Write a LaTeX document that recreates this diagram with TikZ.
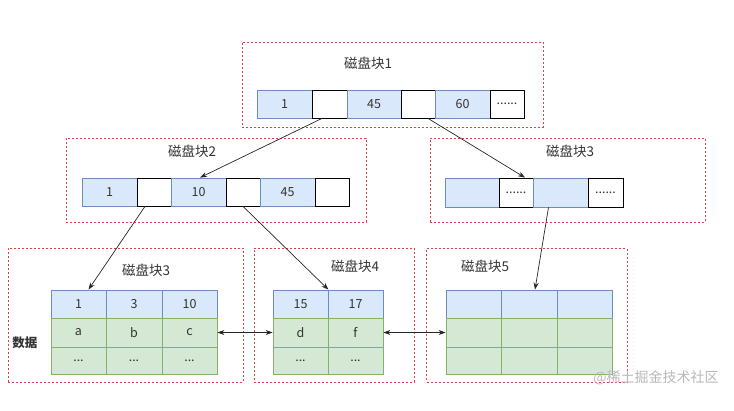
\documentclass[tikz,border=0pt]{standalone}
\usepackage{fontspec}
\setmainfont{Noto Sans CJK SC}
\usetikzlibrary{arrows.meta}
\definecolor{bfill}{HTML}{DAE8FC}
\definecolor{bline}{HTML}{6C8EBF}
\definecolor{gfill}{HTML}{D5E8D4}
\definecolor{gline}{HTML}{82B366}
\definecolor{dred}{HTML}{E04040}
\definecolor{txt}{HTML}{333333}
\newcommand{\cellat}[7]{\node[#2, minimum width={(#5-#3)*1pt}, minimum height={(#6-#4)*1pt}] (#1) at ({(#3+#5)/2},{(#4+#6)/2}) {#7};}
\begin{document}
\begin{tikzpicture}[x=1pt,y=-1pt,
  blk/.style={draw=dred, dash pattern=on 2pt off 2pt, line width=0.9pt, inner sep=0},
  cellbase/.style={inner sep=0, line width=0.8pt, text=txt, font=\fontsize{12.5}{14}\selectfont},
  bcell/.style={cellbase, draw=bline, fill=bfill},
  wcell/.style={cellbase, draw=black, fill=white},
  gcell/.style={cellbase, draw=gline, fill=gfill},
  lbl/.style={text=txt, font=\fontsize{13.5}{15}\selectfont},
  arr/.style={-{Stealth[length=7pt,width=5pt]}, draw=black!85, line width=0.7pt},
  darr/.style={{Stealth[length=7pt,width=5pt]}-{Stealth[length=7pt,width=5pt]}, draw=black!85, line width=0.7pt}]
\useasboundingbox (0,0) rectangle (734,410);
% top block
\cellat{blk1}{blk}{242}{42}{543}{127}{}
\node[lbl] (l1) at (368,63) {磁盘块1};
\cellat{t1}{bcell}{257}{90}{312}{118}{1}
\cellat{t2}{wcell}{312}{90}{347}{118}{}
\cellat{t3}{bcell}{347}{90}{401}{118}{45}
\cellat{t4}{wcell}{401}{90}{435}{118}{}
\cellat{t5}{bcell}{435}{90}{490}{118}{60}
\cellat{t6}{wcell}{490}{90}{524}{118}{......}
% middle left
\cellat{blk2}{blk}{66}{138}{366}{222}{}
\node[lbl] (l2) at (192,151) {磁盘块2};
\cellat{m1}{bcell}{82}{178}{137}{206}{1}
\cellat{m2}{wcell}{137}{178}{171}{206}{}
\cellat{m3}{bcell}{171}{178}{226}{206}{10}
\cellat{m4}{wcell}{226}{178}{260}{206}{}
\cellat{m5}{bcell}{260}{178}{315}{206}{45}
\cellat{m6}{wcell}{315}{178}{349}{206}{}
% middle right
\cellat{blk3}{blk}{430}{138}{705}{222}{}
\node[lbl] (l3) at (570,151) {磁盘块3};
\cellat{r1}{bcell}{445}{178}{499}{207}{}
\cellat{r2}{wcell}{499}{178}{533}{207}{......}
\cellat{r3}{bcell}{533}{178}{588}{207}{}
\cellat{r4}{wcell}{588}{178}{623}{207}{......}
% bottom left
\cellat{blk4}{blk}{8}{248}{243}{382}{}
\node[lbl] (l4) at (146,270) {磁盘块3};
\node[lbl, font=\fontsize{12.5}{14}\selectfont\bfseries] (sj) at (25,343) {数据};
\cellat{a11}{bcell}{51}{290}{106}{318}{1}
\cellat{a12}{bcell}{106}{290}{162}{318}{3}
\cellat{a13}{bcell}{162}{290}{217}{318}{10}
\cellat{a21}{gcell}{51}{318}{106}{347}{a}
\cellat{a22}{gcell}{106}{318}{162}{347}{b}
\cellat{a23}{gcell}{162}{318}{217}{347}{c}
\cellat{a31}{gcell}{51}{347}{106}{374}{...}
\cellat{a32}{gcell}{106}{347}{162}{374}{...}
\cellat{a33}{gcell}{162}{347}{217}{374}{...}
% bottom middle
\cellat{blk5}{blk}{254}{248}{414}{382}{}
\node[lbl] (l5) at (355,266) {磁盘块4};
\cellat{b11}{bcell}{273}{290}{328}{318}{15}
\cellat{b12}{bcell}{328}{290}{383}{318}{17}
\cellat{b21}{gcell}{273}{318}{328}{347}{d}
\cellat{b22}{gcell}{328}{318}{383}{347}{f}
\cellat{b31}{gcell}{273}{347}{328}{374}{...}
\cellat{b32}{gcell}{328}{347}{383}{374}{...}
% bottom right
\cellat{blk6}{blk}{426.5}{248.5}{627}{382}{}
\node[lbl] (l6) at (485,266) {磁盘块5};
\cellat{c11}{bcell}{446}{290}{501}{318}{}
\cellat{c12}{bcell}{501}{290}{557}{318}{}
\cellat{c13}{bcell}{557}{290}{612}{318}{}
\cellat{c21}{gcell}{446}{318}{501}{347}{}
\cellat{c22}{gcell}{501}{318}{557}{347}{}
\cellat{c23}{gcell}{557}{318}{612}{347}{}
\cellat{c31}{gcell}{446}{347}{501}{374}{}
\cellat{c32}{gcell}{501}{347}{557}{374}{}
\cellat{c33}{gcell}{557}{347}{612}{374}{}
% arrows
\draw[arr] ([xshift=-7.5]t2.south) -- ([xshift=1.5]m3.north);
\draw[arr] ([xshift=10]t4.south) -- ([xshift=9]r2.north);
\draw[arr] ([xshift=-12]r3.south) -- ([xshift=6]c12.north);
\draw[arr] ([xshift=-9]m2.south) -- ([xshift=10]a11.north);
\draw[arr] (m4.south) -- (b11.north east);
\draw[darr] (a23.east) -- (b21.west);
\draw[darr] (b22.east) -- (c21.west);
% watermark
\node[text=black!28, font=\fontsize{14}{16}\selectfont] (wm) at (656,378) {@稀土掘金技术社区};
\end{tikzpicture}
\end{document}
